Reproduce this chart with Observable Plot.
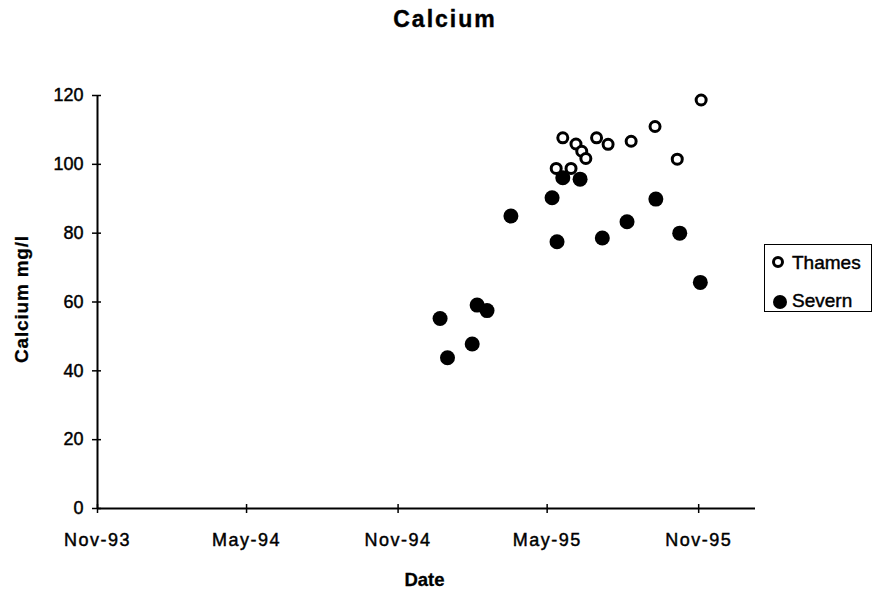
<!DOCTYPE html>
<html>
<head>
<meta charset="utf-8">
<script src="https://cdn.jsdelivr.net/npm/d3@7"></script>
<script src="https://cdn.jsdelivr.net/npm/@observablehq/plot@0.6"></script>
<style>
  body { margin: 0; background: #fff; }
  #wrap { position: relative; width: 874px; height: 603px; font-family: "Liberation Sans", Arial, sans-serif; color: #000; background: #fff; }
  #wrap svg { position: absolute; left: 0; top: 0; }
  .t { position: absolute; white-space: nowrap; line-height: 1; }
  #title { left: 445px; top: 8px; transform: translateX(-50%); font-size: 23px; font-weight: bold; letter-spacing: 2px; -webkit-text-stroke: 0.4px #000; }
  #ylab { left: 21px; top: 299px; transform: translate(-50%, -50%) rotate(-90deg); font-size: 19px; font-weight: bold; letter-spacing: 0.8px; -webkit-text-stroke: 0.3px #000; }
  #xlab { left: 424.5px; top: 571px; transform: translateX(-50%); font-size: 18.5px; font-weight: bold; -webkit-text-stroke: 0.3px #000; }
  #legend { position: absolute; left: 764px; top: 244px; width: 108px; height: 68px; box-sizing: border-box; border: 1.5px solid #000; background: #fff; }
  .mk { position: absolute; box-sizing: border-box; border-radius: 50%; }
  .lt { position: absolute; white-space: nowrap; line-height: 1; font-size: 19px; -webkit-text-stroke: 0.45px #000; }
  #chart g[aria-label="x-axis tick label"] text,
  #chart g[aria-label="y-axis tick label"] text { stroke: #000; stroke-width: 0.45px; }
  #chart g[aria-label="x-axis tick label"] text { letter-spacing: 1.5px; }
</style>
</head>
<body>
<div id="wrap">
  <div id="chart"></div>
  <div class="t" id="title">Calcium</div>
  <div class="t" id="ylab">Calcium mg/l</div>
  <div class="t" id="xlab">Date</div>
  <div id="legend"></div>
</div>
<script>
// ---- data ----
const seriesNames = ["Thames", "Severn"];

const thamesDates = ["1995-05-12","1995-05-20","1995-05-30","1995-06-05","1995-06-12","1995-06-17","1995-06-30","1995-07-14","1995-08-11","1995-09-09","1995-10-06","1995-11-04"];
const thamesCa    = [98.8, 107.7, 98.8, 105.9, 103.8, 101.7, 107.7, 105.8, 106.7, 111.0, 101.5, 118.7];

const severnDates = ["1994-12-22","1994-12-31","1995-01-30","1995-02-05","1995-02-17","1995-03-18","1995-05-07","1995-05-13","1995-05-20","1995-06-10","1995-07-07","1995-08-06","1995-09-10","1995-10-09","1995-11-03"];
const severnCa    = [55.2, 43.8, 47.8, 59.1, 57.5, 85.0, 90.3, 77.5, 96.1, 95.7, 78.6, 83.3, 89.9, 80.0, 65.7];

const xTickDates  = ["1993-11-01","1994-05-01","1994-11-01","1995-05-01","1995-11-01"];
const xTickLabels = ["Nov-93","May-94","Nov-94","May-95","Nov-95"];
const yTicks      = [0, 20, 40, 60, 80, 100, 120];
const xDomain     = ["1993-11-01","1996-01-09"];
const yDomain     = [0, 120];

// ---- build ----
const parse = s => new Date(s + "T00:00:00Z");
const thames = thamesDates.map((d, i) => ({date: parse(d), ca: thamesCa[i]}));
const severn = severnDates.map((d, i) => ({date: parse(d), ca: severnCa[i]}));
const tickD = xTickDates.map(parse);
const fmt = d => { const i = tickD.findIndex(t => +t === +d); return i >= 0 ? xTickLabels[i] : ""; };

const chart = Plot.plot({
  width: 874, height: 603,
  marginLeft: 97, marginRight: 119, marginTop: 95, marginBottom: 95,
  style: {fontFamily: "Liberation Sans, Arial, sans-serif", fontSize: "18px", color: "#000", background: "transparent", overflow: "visible"},
  x: {type: "utc", domain: xDomain.map(parse)},
  y: {domain: yDomain},
  marks: [
    Plot.ruleY([yDomain[0]], {stroke: "#000", strokeWidth: 2}),
    Plot.ruleX([parse(xDomain[0])], {y1: yDomain[0], y2: yDomain[1], stroke: "#000", strokeWidth: 2}),
    Plot.axisY(yTicks, {tickSize: 9, dx: 4, fill: "none", label: null, strokeWidth: 1.5}),
    Plot.axisY(yTicks, {tickSize: 0, tickPadding: 14, label: null}),
    Plot.axisX(tickD, {tickSize: 9, dy: -4, fill: "none", label: null, strokeWidth: 1.5}),
    Plot.axisX(tickD, {tickSize: 0, tickPadding: 25, tickFormat: fmt, label: null}),
    Plot.dot(severn, {x: "date", y: "ca", r: 7.5, fill: "#000", stroke: "none"}),
    Plot.dot(thames, {x: "date", y: "ca", r: 5, fill: "#fff", stroke: "#000", strokeWidth: 3})
  ]
});
document.getElementById("chart").appendChild(chart);

// legend
const legend = document.getElementById("legend");
const legendItems = [
  {name: seriesNames[0], cx: 13, cy: 17, d: 12, style: "border:3px solid #000;background:#fff;", ty: 8},
  {name: seriesNames[1], cx: 15, cy: 57, d: 14, style: "background:#000;", ty: 46}
];
legendItems.forEach(it => {
  const m = document.createElement("div");
  m.className = "mk";
  m.style.cssText = `left:${it.cx - it.d / 2}px;top:${it.cy - it.d / 2}px;width:${it.d}px;height:${it.d}px;` + it.style;
  legend.appendChild(m);
  const t = document.createElement("div");
  t.className = "lt";
  t.style.left = "27px";
  t.style.top = it.ty + "px";
  t.textContent = it.name;
  legend.appendChild(t);
});
</script>
</body>
</html>
